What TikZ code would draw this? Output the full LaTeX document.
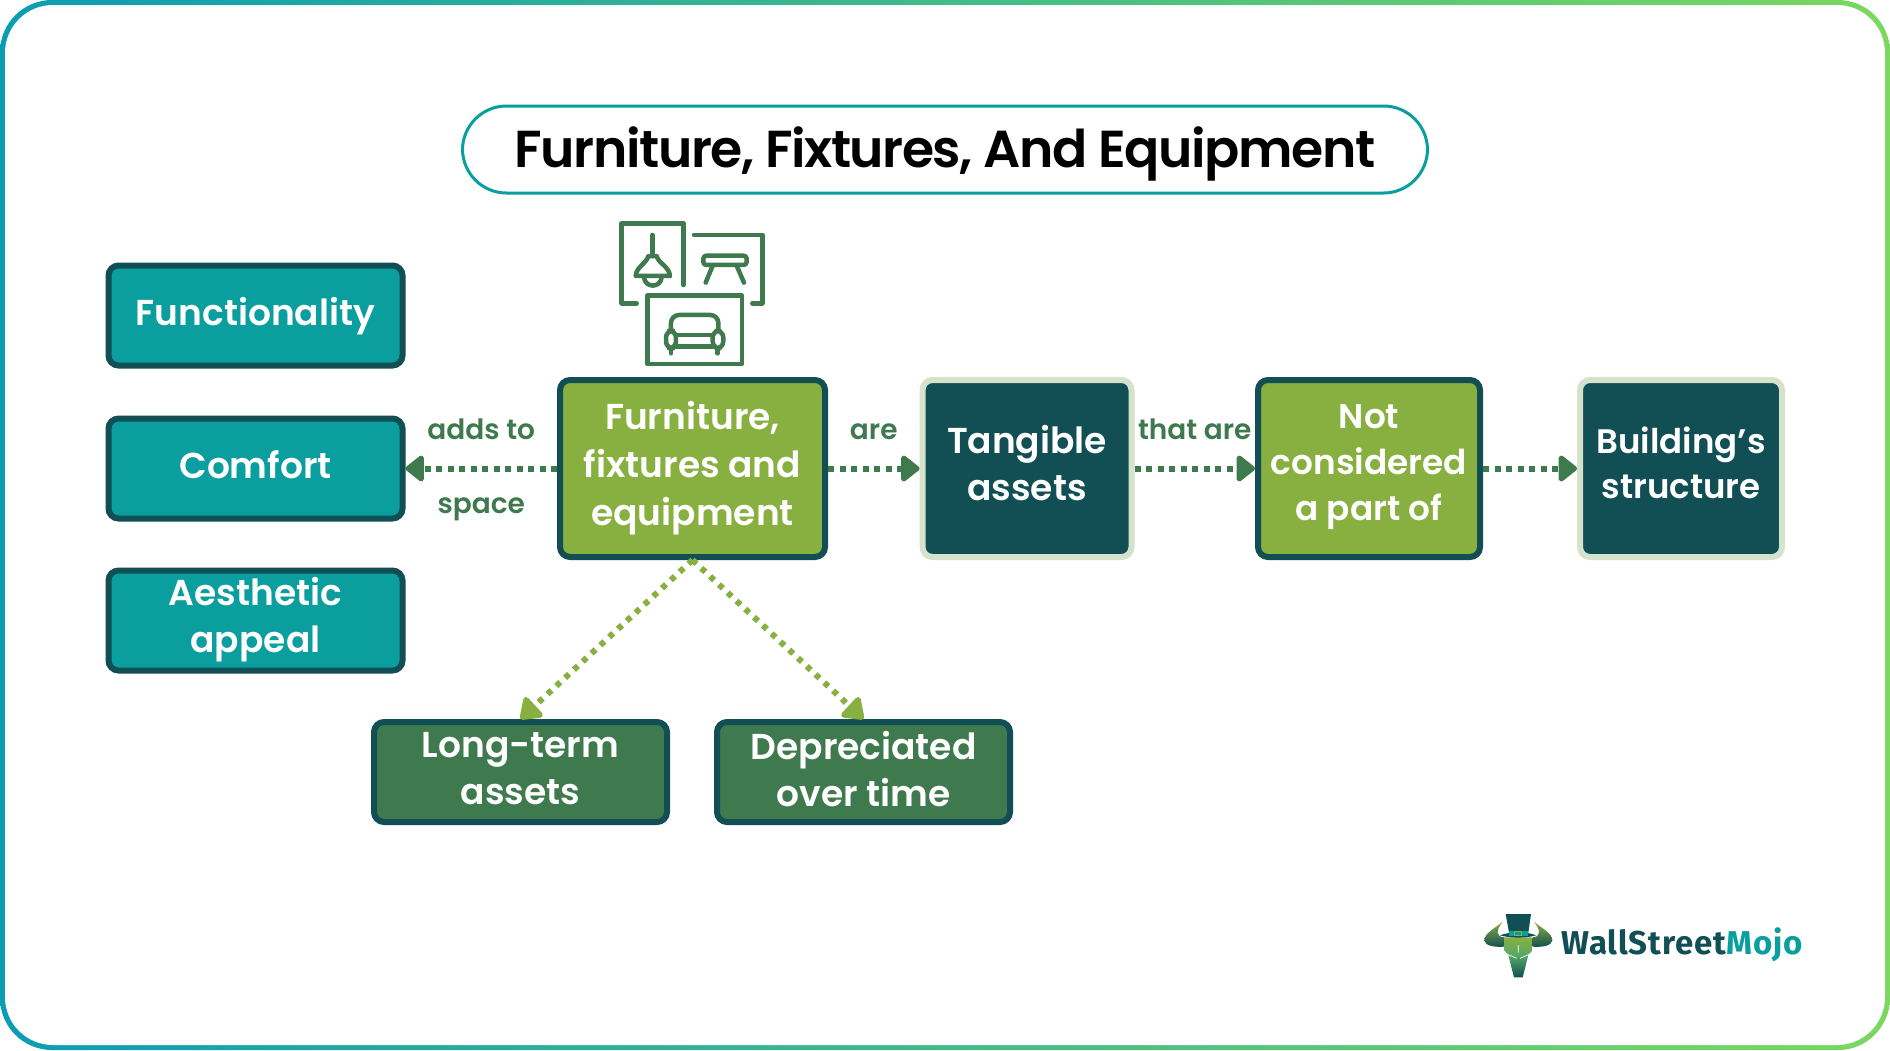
\documentclass[tikz,border=0pt]{standalone}
\usepackage{fontspec}
\setmainfont{Poppins}
\newfontfamily\popsemi{Poppins SemiBold}
\newfontfamily\logofont{Fira Sans}[BoldFont={Fira Sans Bold}]
\usetikzlibrary{arrows.meta}
\definecolor{wsmteal}{HTML}{0A9E9E}
\definecolor{wsmdark}{HTML}{114F54}
\definecolor{wsmlime}{HTML}{88B040}
\definecolor{wsmgreen}{HTML}{3F7A4F}
\definecolor{wsmpale}{HTML}{D5E3CC}
\definecolor{edgeleft}{HTML}{0A9DB3}
\definecolor{edgeright}{HTML}{7AD85F}
\tikzset{
    main/.style = {draw, line width=6pt, rounded corners=10pt, align=center, text=white, inner sep=0pt,
        font=\popsemi\fontsize{36}{47}\selectfont, execute at begin node=\strut},
    side/.style = {main, text depth=13pt, fill=wsmteal, draw=wsmdark, minimum width=294pt, minimum height=100pt},
    low/.style = {main, text depth=7pt, fill=wsmgreen, draw=wsmdark, minimum width=293pt, minimum height=100pt},
    lime/.style = {main, fill=wsmlime, draw=wsmdark, minimum height=177pt},
    deep/.style = {main, fill=wsmdark, draw=wsmpale, minimum height=177pt},
    hop/.style = {line width=6pt, draw=wsmgreen, dash pattern=on 6pt off 5.5pt, -{Triangle[length=20pt,width=30pt,round]}},
    fork/.style = {line width=6pt, draw=wsmlime, dash pattern=on 5.5pt off 6.5pt, -{Triangle[length=22pt,width=30pt,round]}},
    tag/.style = {inner sep=0pt, outer sep=0pt, text=wsmgreen, font=\popsemi\fontsize{28}{30}\selectfont},
    icon/.style = {line width=4.5pt, draw=wsmgreen, line cap=round, line join=round},
}
\begin{document}
\begin{tikzpicture}[x=1pt, y=-1pt]
    \useasboundingbox (0,0) rectangle (1890,1050);
    % frame
    \shade[left color=edgeleft, right color=edgeright, rounded corners=52pt] (0,0) rectangle (1890,1050);
    \fill[white, rounded corners=48pt] (5,5) rectangle (1885,1045);

    \node[draw=wsmteal, line width=3pt, fill=white, rounded corners=44pt, minimum width=965pt, minimum height=87pt, text depth=5pt,
        font=\popsemi\fontsize{52}{60}\selectfont\addfontfeatures{LetterSpace=-2.8}] (title) at (945,149.5) {Furniture, Fixtures, And Equipment};

    \node[side] (comf) at (255.5,468.5) {Comfort};
    \node[side, node distance=153pt, above of=comf] (func) {Functionality};
    \node[side, text depth=11.5pt, node distance=152pt, below of=comf] (aest) {Aesthetic\\appeal};

    \node[lime, text depth=9.5pt, minimum width=265pt, font=\popsemi\fontsize{36}{48}\selectfont] (furn) at (692.5,468.5) {Furniture,\\fixtures and\\equipment};
    \node[deep, text depth=10.5pt, minimum width=209pt, node distance=334.5pt, right of=furn] (tang) {Tangible\\assets};
    \node[lime, text depth=12.5pt, minimum width=222pt, node distance=342pt, right of=tang, font=\popsemi\fontsize{34.3}{46}\selectfont] (part) {Not\\considered\\a part of};
    \node[deep, text depth=12pt, minimum width=202pt, node distance=312pt, right of=part, font=\popsemi\fontsize{34}{45}\selectfont] (bldg) {Building’s\\structure};

    \node[low] (long) at (520.5,772) {Long-term\\assets};
    \node[low, node distance=343pt, right of=long] (depr) {Depreciated\\over time};

    \draw[hop] (furn) to node[midway, above=29pt, tag] {adds to} node[midway, below=29pt, tag] {space} (comf);
    \draw[hop] (furn) to node[midway, above=29pt, tag] {are} (tang);
    \draw[hop] (tang) to node[midway, above=29pt, tag] {that are} (part);
    \draw[hop] (part) to (bldg);
    \draw[fork] (furn.south) to (long.north);
    \draw[fork] (furn.south) to (depr.north);

    % furniture icon
    \begin{scope}[shift={(590,200)}, x=.3333pt, y=-.3333pt]
        \draw[icon] (140,310) -- (95,310) -- (95,70) -- (280,70) -- (280,255);
        \draw[icon] (312,105) -- (517,105) -- (517,310) -- (487,310);
        \draw[icon] (172,287) rectangle (456,492);
        \draw[icon] (187,105) -- (187,168);
        \draw[icon] (137,228) -- (240,228) .. controls (238,200) and (205,190) .. (200,168) -- (175,168) .. controls (170,190) and (139,200) .. (137,228) -- cycle;
        \draw[icon] (162,232) .. controls (165,265) and (212,265) .. (215,232);
        \draw[icon, rounded corners=3pt] (340,167) rectangle (470,195);
        \draw[icon] (368,197) -- (347,248);
        \draw[icon] (440,197) -- (462,248);
        \draw[icon, rounded corners=8pt] (243,385) -- (243,345) -- (385,345) -- (385,385);
        \draw[icon, rounded corners=7pt] (228,392) rectangle (258,445);
        \draw[icon, rounded corners=7pt] (368,392) rectangle (400,445);
        \draw[icon] (258,405) -- (368,405);
        \draw[icon] (258,440) -- (368,440);
        \draw[icon] (243,445) -- (243,460);
        \draw[icon] (383,445) -- (383,460);
    \end{scope}

    % logo
    \begin{scope}[shift={(1460,890)}, x=.3333pt, y=-.3333pt]
        \shade[top color=wsmlime, bottom color=wsmdark] (128,95) .. controls (105,115) and (72,130) .. (73,152) .. controls (76,168) and (105,172) .. (132,170) -- (132,142) .. controls (110,140) and (105,125) .. (128,95) -- cycle;
        \shade[top color=wsmlime, bottom color=wsmdark] (222,95) .. controls (245,115) and (278,130) .. (277,152) .. controls (274,168) and (245,172) .. (218,170) -- (218,142) .. controls (240,140) and (245,125) .. (222,95) -- cycle;
        \shade[top color=wsmlime, bottom color=wsmlime!60!wsmteal] (132,142) -- (218,142) -- (218,180) -- (205,195) -- (145,195) -- (132,180) -- cycle;
        \shade[top color=wsmlime!60!wsmteal, bottom color=wsmdark] (145,195) -- (205,195) -- (195,235) -- (188,262) -- (162,262) -- (155,235) -- cycle;
        \draw[white, line width=.7pt] (140,192) -- (170,205) (210,192) -- (180,205) (175,165) -- (175,188);
        \fill[wsmdark] (137,72) -- (213,72) -- (205,128) -- (147,128) -- cycle;
        \fill[wsmdark] (120,136) .. controls (150,124) and (200,124) .. (228,136) .. controls (200,145) and (150,145) .. (120,136) -- cycle;
        \fill[wsmteal] (147,122) rectangle (205,137);
        \draw[wsmlime, line width=1pt] (163,123) rectangle (185,136);
    \end{scope}
    \node[inner sep=0pt, anchor=base west, font=\logofont\bfseries\fontsize{33}{36}\selectfont\addfontfeatures{LetterSpace=2.6}, text=wsmdark] (wsm) at (1561,954) {WallStreet\textcolor{wsmteal}{Mojo}};
\end{tikzpicture}
\end{document}
